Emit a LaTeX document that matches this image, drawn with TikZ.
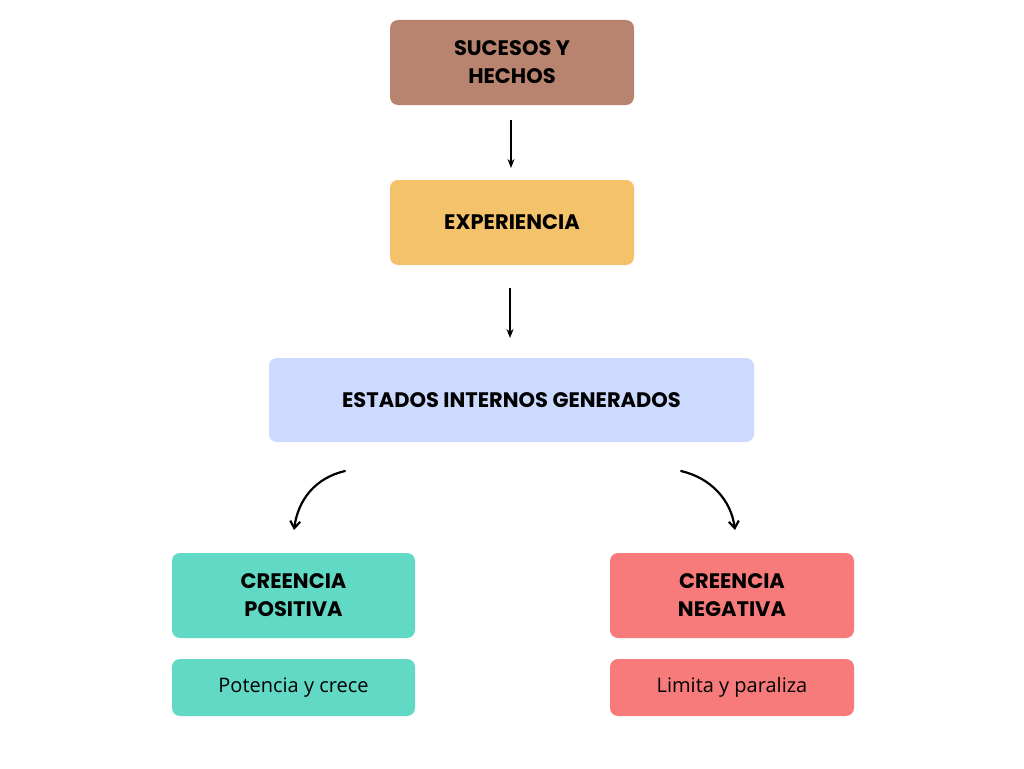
\documentclass[tikz,border=0pt]{standalone}
\usetikzlibrary{arrows.meta}
\usepackage{fontspec}
\setmainfont{Poppins}
\newfontfamily\bodyfont{Open Sans}
\definecolor{cbrown}{HTML}{B9846F}
\definecolor{cyellow}{HTML}{F3C26B}
\definecolor{cblue}{HTML}{CCDAFF}
\definecolor{cteal}{HTML}{62D9C5}
\definecolor{cred}{HTML}{F87B7B}
\begin{document}
\begin{tikzpicture}[x=1pt,y=-1pt,
  box/.style={rounded corners=8pt,inner sep=0pt,align=center,font=\fontsize{21}{28}\selectfont\bfseries},
  sub/.style={rounded corners=8pt,inner sep=0pt,align=center,font=\bodyfont\fontsize{20}{24}\selectfont},
  arr/.style={-{Stealth[length=9pt,width=7pt]},line width=1.3pt},
  carr/.style={-{Straight Barb[length=7pt,width=10pt]},line width=2.2pt,line cap=round}]
\useasboundingbox[fill=white] (0,0) rectangle (1024,768);
\node[box,fill=cbrown,minimum width=244pt,minimum height=85pt] (suc) at (512,62.5) {SUCESOS Y\\HECHOS};
\node[box,fill=cyellow,minimum width=244pt,minimum height=85pt] (exp) at (512,222.5) {EXPERIENCIA};
\node[box,fill=cblue,minimum width=485pt,minimum height=84pt] (est) at (511.5,400) {ESTADOS INTERNOS GENERADOS};
\node[box,fill=cteal,minimum width=243pt,minimum height=85pt] (pos) at (293.5,595.5) {CREENCIA\\POSITIVA};
\node[sub,fill=cteal,minimum width=243pt,minimum height=57pt] (pot) at (293.5,687.5) {Potencia y crece};
\node[box,fill=cred,minimum width=244pt,minimum height=85pt] (neg) at (732,595.5) {CREENCIA\\NEGATIVA};
\node[sub,fill=cred,minimum width=244pt,minimum height=57pt] (lim) at (732,687.5) {Limita y paraliza};
\coordinate (a1) at (511,120); \coordinate (a2) at (511,168);
\coordinate (b1) at (510,288); \coordinate (b2) at (510,338);
\coordinate (c1) at (345,471); \coordinate (c2) at (294,530);
\coordinate (d1) at (681,471); \coordinate (d2) at (735,530);
\draw[arr] (a1) -- (a2);
\draw[arr] (b1) -- (b2);
\draw[carr] (c1) .. controls (315,478) and (298,500) .. (c2);
\draw[carr] (d1) .. controls (711,478) and (731,500) .. (d2);
\end{tikzpicture}
\end{document}
